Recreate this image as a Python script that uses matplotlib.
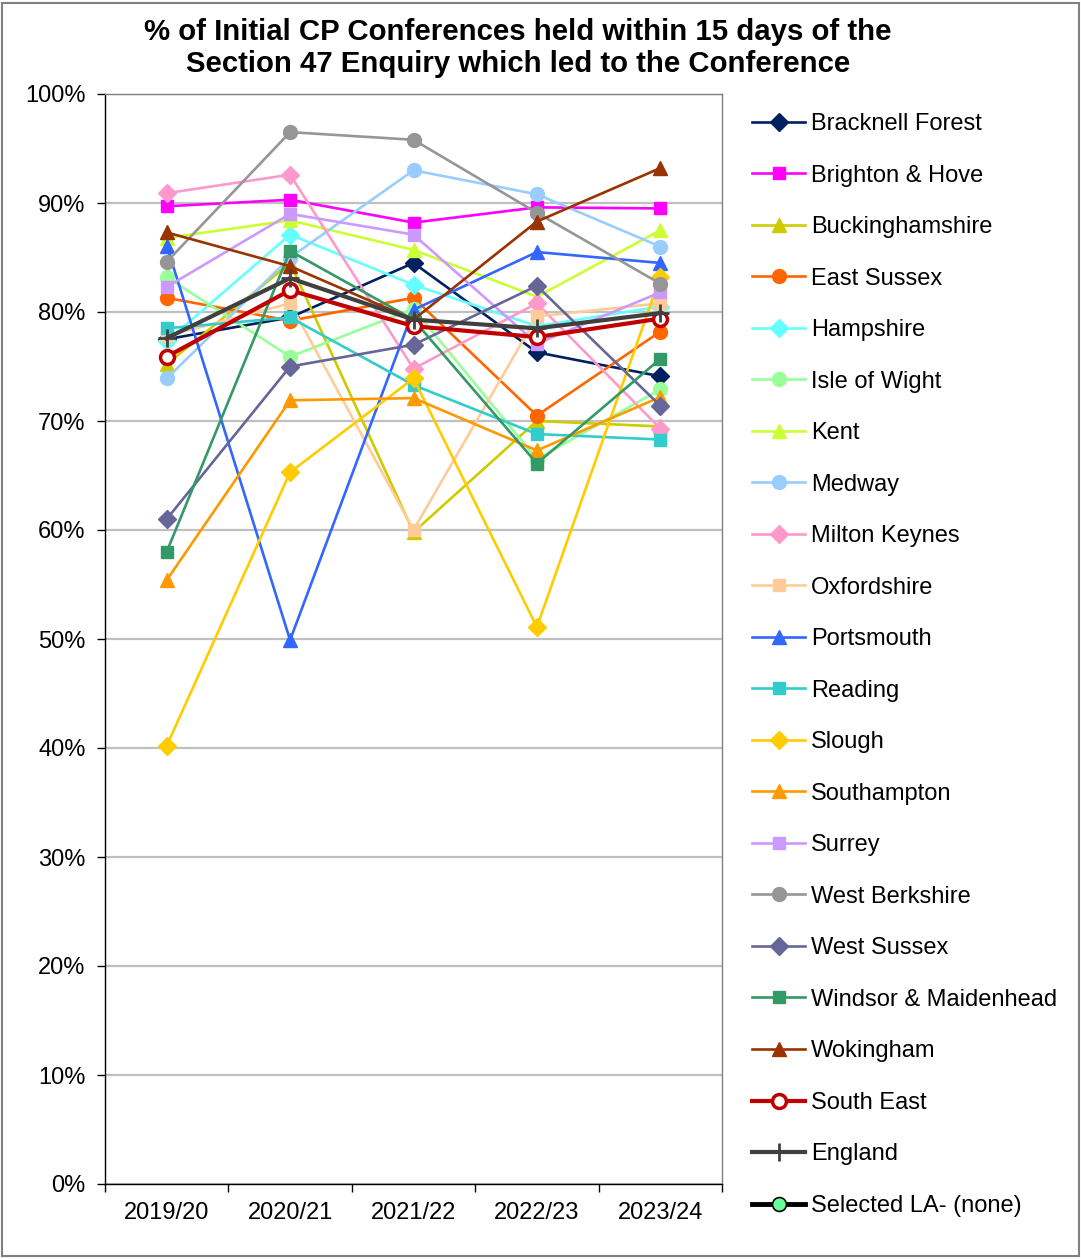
import matplotlib
matplotlib.use("Agg")
import matplotlib.pyplot as plt
from matplotlib.ticker import FixedLocator, FuncFormatter
from matplotlib.lines import Line2D
from matplotlib.patches import Rectangle

plt.rcParams['font.family'] = ['Liberation Sans', 'DejaVu Sans']

years = ["2019/20", "2020/21", "2021/22", "2022/23", "2023/24"]

bracknell_forest = [77.5, 79.5, 84.5, 76.3, 74.1]
brighton_hove = [89.7, 90.3, 88.2, 89.6, 89.5]
buckinghamshire = [75.2, 84.5, 59.8, 70.0, 69.5]
east_sussex = [81.3, 79.2, 81.3, 70.5, 78.2]
hampshire = [77.3, 87.1, 82.5, 78.7, 80.5]
isle_of_wight = [83.2, 75.9, 80.3, 66.5, 72.9]
kent = [86.8, 88.4, 85.7, 81.4, 87.5]
medway = [73.9, 85.0, 93.0, 90.8, 86.0]
milton_keynes = [90.9, 92.6, 74.8, 80.8, 69.3]
oxfordshire = [77.8, 80.8, 60.0, 79.6, 80.8]
portsmouth = [86.1, 49.9, 80.2, 85.5, 84.5]
reading = [78.5, 79.5, 73.3, 68.8, 68.3]
slough = [40.2, 65.3, 73.9, 51.1, 83.2]
southampton = [55.4, 71.9, 72.1, 67.3, 72.2]
surrey = [82.3, 89.0, 87.1, 77.1, 81.8]
west_berkshire = [84.6, 96.5, 95.8, 89.1, 82.6]
west_sussex = [61.0, 75.0, 77.0, 82.4, 71.4]
windsor_maidenhead = [58.0, 85.6, 79.3, 66.1, 75.7]
wokingham = [87.3, 84.2, 79.3, 88.3, 93.2]
south_east = [75.9, 82.0, 78.7, 77.7, 79.4]
england = [77.6, 83.1, 79.3, 78.5, 79.9]

series = [
    ("Bracknell Forest", bracknell_forest, "#002060", "D"),
    ("Brighton & Hove", brighton_hove, "#FF00FF", "s"),
    ("Buckinghamshire", buckinghamshire, "#CCCC00", "^"),
    ("East Sussex", east_sussex, "#FF6600", "o"),
    ("Hampshire", hampshire, "#66FFFF", "D"),
    ("Isle of Wight", isle_of_wight, "#99FF99", "o"),
    ("Kent", kent, "#CCFF33", "^"),
    ("Medway", medway, "#99CCFF", "o"),
    ("Milton Keynes", milton_keynes, "#FF99CC", "D"),
    ("Oxfordshire", oxfordshire, "#FFCC99", "s"),
    ("Portsmouth", portsmouth, "#3366FF", "^"),
    ("Reading", reading, "#33CCCC", "s"),
    ("Slough", slough, "#FFCC00", "D"),
    ("Southampton", southampton, "#FF9900", "^"),
    ("Surrey", surrey, "#CC99FF", "s"),
    ("West Berkshire", west_berkshire, "#969696", "o"),
    ("West Sussex", west_sussex, "#666699", "D"),
    ("Windsor & Maidenhead", windsor_maidenhead, "#339966", "s"),
    ("Wokingham", wokingham, "#993300", "^"),
]

W, H = 1081, 1259
fig = plt.figure(figsize=(W / 100, H / 100), dpi=100)
ax = fig.add_axes([105 / W, 1 - 1184 / H, (722 - 105) / W, (1184 - 94) / H])

x = list(range(len(years)))
msize = {"D": 9, "s": 9, "^": 10, "o": 10}
handles = []
for name, vals, col, mk in series:
    ln, = ax.plot(x, vals, color=col, lw=1.9, marker=mk, ms=msize[mk],
                  mfc=col, mec=col, label=name, zorder=3)
    handles.append(ln)

se, = ax.plot(x, south_east, color="#C00000", lw=3.0, marker="o", ms=10,
              mfc="white", mec="#C00000", mew=2.5, label="South East", zorder=4)
en, = ax.plot(x, england, color="#404040", lw=3.0, marker="+", ms=13,
              mec="#404040", mew=2.0, label="England", zorder=5)
handles += [se, en]
sel = Line2D([], [], color="black", lw=3.5, marker="o", ms=10, mfc="#66FF99",
             mec="black", mew=1.2, label="Selected LA- (none)")
handles.append(sel)

ax.set_xlim(-0.5, len(years) - 0.5)
ax.set_ylim(0, 100)
ax.set_yticks(range(0, 101, 10))
ax.yaxis.set_major_formatter(FuncFormatter(lambda v, p: f"{int(v)}%"))
ax.grid(axis="y", color="#C0C0C0", lw=1.6, zorder=0)
ax.set_axisbelow(True)

ax.set_xticks(x)
ax.set_xticklabels(years)
ax.xaxis.set_minor_locator(FixedLocator([i - 0.5 for i in range(len(years) + 1)]))
ax.tick_params(axis="x", which="major", length=0, pad=13, labelsize=17)
ax.tick_params(axis="x", which="minor", length=6, width=1, color="black", direction="out")
ax.tick_params(axis="y", length=6, width=1, pad=8, labelsize=17, direction="out")

for s in ["left", "bottom"]:
    ax.spines[s].set_color("black")
    ax.spines[s].set_linewidth(1.0)
for s in ["top", "right"]:
    ax.spines[s].set_color("#808080")
    ax.spines[s].set_linewidth(1.0)

fig.text(518 / W, 1 - 48 / H,
         "% of Initial CP Conferences held within 15 days of the\nSection 47 Enquiry which led to the Conference",
         ha="center", va="center", fontsize=21.2, fontweight="bold", linespacing=1.22)

leg = fig.legend(handles=handles, loc="upper left",
                 bbox_to_anchor=(752 / W, 1 - 113 / H), frameon=False,
                 fontsize=17, handlelength=2.25, handletextpad=0.25,
                 labelspacing=1.25, borderaxespad=0, borderpad=0)

fig.patches.append(Rectangle((0.002, 0.002), 0.996, 0.996, transform=fig.transFigure,
                             fill=False, edgecolor="#808080", lw=1.5))

fig.savefig("out.png", dpi=100)
